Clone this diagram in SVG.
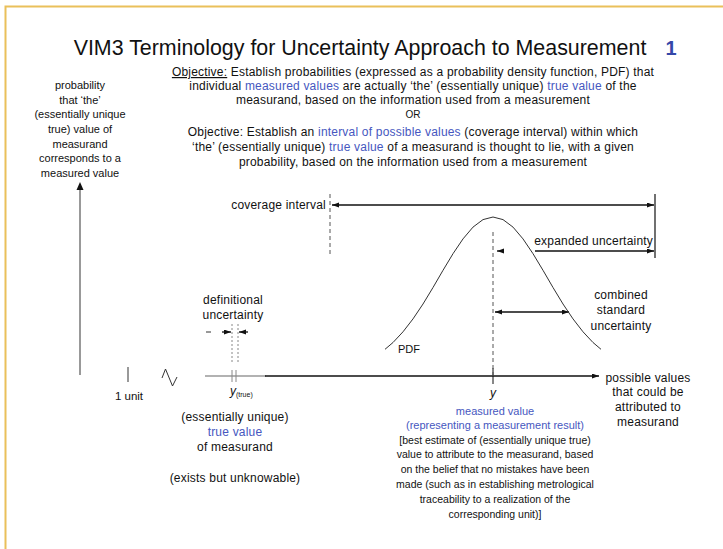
<svg xmlns="http://www.w3.org/2000/svg" width="723" height="549" viewBox="0 0 723 549">
<style>
text{font-family:"Liberation Sans",Arial,sans-serif;fill:#111;font-size:11px}
.c{text-anchor:middle}
.w{font-size:12px;letter-spacing:0.2px}
.s{font-size:10.5px}
.b{fill:#4657C0}
.ax{stroke:#111;stroke-width:1.3;fill:none}
.dash{stroke:#555;stroke-width:1;stroke-dasharray:4 3;fill:none}
.dot{stroke:#888;stroke-width:1;stroke-dasharray:2 2;fill:none}
</style>
<defs>
<marker id="ah" markerUnits="userSpaceOnUse" markerWidth="8" markerHeight="6" refX="7" refY="2.5" orient="auto-start-reverse"><path d="M0,0 L7,2.5 L0,5 z" fill="#111"/></marker>
</defs>
<rect width="723" height="549" fill="#fff"/>
<g id="frame" stroke="#EAC05A" stroke-width="2" fill="none"><path d="M5.5,549 L5.5,6.5 L723,6.5"/></g>

<g id="title">
<text x="360" y="55" class="c" style="font-size:21.4px">VIM3 Terminology for Uncertainty Approach to Measurement</text>
<text x="671" y="55" class="c" style="font-size:20px;font-weight:bold;fill:#3447A8">1</text>
</g>

<g id="objectives">
<text x="413" y="76" class="c w"><tspan text-decoration="underline">Objective:</tspan> Establish probabilities (expressed as a probability density function, PDF) that</text>
<text x="413" y="90" class="c w">individual <tspan class="b">measured values</tspan> are actually ‘the’ (essentially unique) <tspan class="b">true value</tspan> of the</text>
<text x="413" y="104" class="c w">measurand, based on the information used from a measurement</text>
<text x="413" y="118" class="c" style="font-size:10px">OR</text>
<text x="413" y="136" class="c w">Objective: Establish an <tspan class="b">interval of possible values</tspan> (coverage interval) within which</text>
<text x="413" y="151" class="c w">‘the’ (essentially unique) <tspan class="b">true value</tspan> of a measurand is thought to lie, with a given</text>
<text x="413" y="166" class="c w">probability, based on the information used from a measurement</text>
</g>

<g id="yaxis-label">
<text x="80" y="89" class="c">probability</text>
<text x="80" y="104" class="c">that ‘the’</text>
<text x="80" y="118" class="c">(essentially unique</text>
<text x="80" y="133" class="c">true) value of</text>
<text x="80" y="148" class="c">measurand</text>
<text x="80" y="162" class="c">corresponds to a</text>
<text x="80" y="177" class="c">measured value</text>
</g>

<g id="unit">
<line x1="128" y1="367" x2="128" y2="382" stroke="#777" stroke-width="1.5"/>
<text x="129" y="400" class="c" style="font-size:11.5px">1 unit</text>
<path d="M162,378 L165.5,369 L172.5,386 L177,377" fill="none" stroke="#333" stroke-width="1"/>
</g>

<g id="connectors">
<line x1="80" y1="375" x2="80" y2="184" stroke="#999" stroke-width="2"/>
<path d="M76.5,190 L80,182 L83.5,190 z" fill="#111"/>
<line x1="205" y1="376" x2="266" y2="376" stroke="#999" stroke-width="1.3"/>
<line x1="265" y1="376" x2="599" y2="376" class="ax" marker-end="url(#ah)"/>
<line x1="232" y1="370" x2="232" y2="382" stroke="#888" stroke-width="1"/>
<line x1="236" y1="370" x2="236" y2="382" stroke="#888" stroke-width="1"/>
<line x1="493" y1="368" x2="493" y2="384" stroke="#111" stroke-width="1"/>
<line x1="493" y1="232" x2="493" y2="376" class="dash"/>
<line x1="330" y1="194" x2="330" y2="255" class="dash"/>
<line x1="655" y1="194" x2="655" y2="258" stroke="#111" stroke-width="1.2"/>
<line x1="332" y1="205" x2="654" y2="205" class="ax" marker-start="url(#ah)" marker-end="url(#ah)"/>
<line x1="503" y1="251" x2="497" y2="251" class="ax" marker-end="url(#ah)"/>
<line x1="535" y1="251" x2="654" y2="251" class="ax" marker-end="url(#ah)"/>
<line x1="495" y1="312" x2="569" y2="312" class="ax" marker-start="url(#ah)" marker-end="url(#ah)"/>
<line x1="232" y1="324" x2="232" y2="362" class="dot"/>
<line x1="238" y1="324" x2="238" y2="362" class="dot"/>
<line x1="222" y1="332" x2="231" y2="332" class="ax" marker-end="url(#ah)"/>
<line x1="248" y1="332" x2="239" y2="332" class="ax" marker-end="url(#ah)"/>
<line x1="206" y1="332" x2="211" y2="332" stroke="#333" stroke-width="1"/>
</g>

<g id="pdf">
<path d="M385,349.3 L393,342.5 L403,331.8 L413,318.9 L423,304 L433,287.5 L443,270.3 L453,253.7 L463,238.9 L473,227.1 L483,219.6 L493,217 L503,219.6 L513,227.1 L523,238.9 L533,253.7 L543,270.3 L553,287.5 L563,304 L573,318.9 L583,331.8 L593,342.5 L601,349.3" fill="none" stroke="#333" stroke-width="1" stroke-linejoin="round"/>
<text x="398" y="353">PDF</text>
</g>

<g id="coverage-interval"><text x="326" y="209" text-anchor="end" class="w">coverage interval</text></g>
<g id="expanded-uncertainty"><text x="653" y="245" text-anchor="end" class="w">expanded uncertainty</text></g>
<g id="combined-uncertainty">
<text x="621" y="299" class="c w">combined</text>
<text x="621" y="314" class="c w">standard</text>
<text x="621" y="330" class="c w">uncertainty</text>
</g>
<g id="definitional-uncertainty">
<text x="233" y="304" class="c w">definitional</text>
<text x="233" y="319" class="c w">uncertainty</text>
</g>

<g id="y-true">
<text x="230" y="395" style="font-style:italic;font-size:12px">y<tspan dy="2" style="font-style:normal;font-size:7px">(true)</tspan></text>
</g>
<g id="y-label"><text x="493" y="397" class="c" style="font-style:italic;font-size:12px">y</text></g>

<g id="xaxis-label">
<text x="648" y="382" class="c w">possible values</text>
<text x="648" y="396" class="c w">that could be</text>
<text x="648" y="411" class="c w">attributed to</text>
<text x="648" y="426" class="c w">measurand</text>
</g>

<g id="true-value">
<text x="235" y="421" class="c w">(essentially unique)</text>
<text x="235" y="436" class="c w b">true value</text>
<text x="235" y="451" class="c w">of measurand</text>
<text x="235" y="482" class="c w">(exists but unknowable)</text>
</g>

<g id="measured-value">
<text x="495" y="415" class="c b">measured value</text>
<text x="495" y="429" class="c b">(representing a measurement result)</text>
<text x="495" y="444" class="c s">[best estimate of (essentially unique true)</text>
<text x="495" y="458" class="c s">value to attribute to the measurand, based</text>
<text x="495" y="473" class="c s">on the belief that no mistakes have been</text>
<text x="495" y="488" class="c s">made (such as in establishing metrological</text>
<text x="495" y="503" class="c s">traceability to a realization of the</text>
<text x="495" y="518" class="c s">corresponding unit)]</text>
</g>
</svg>
